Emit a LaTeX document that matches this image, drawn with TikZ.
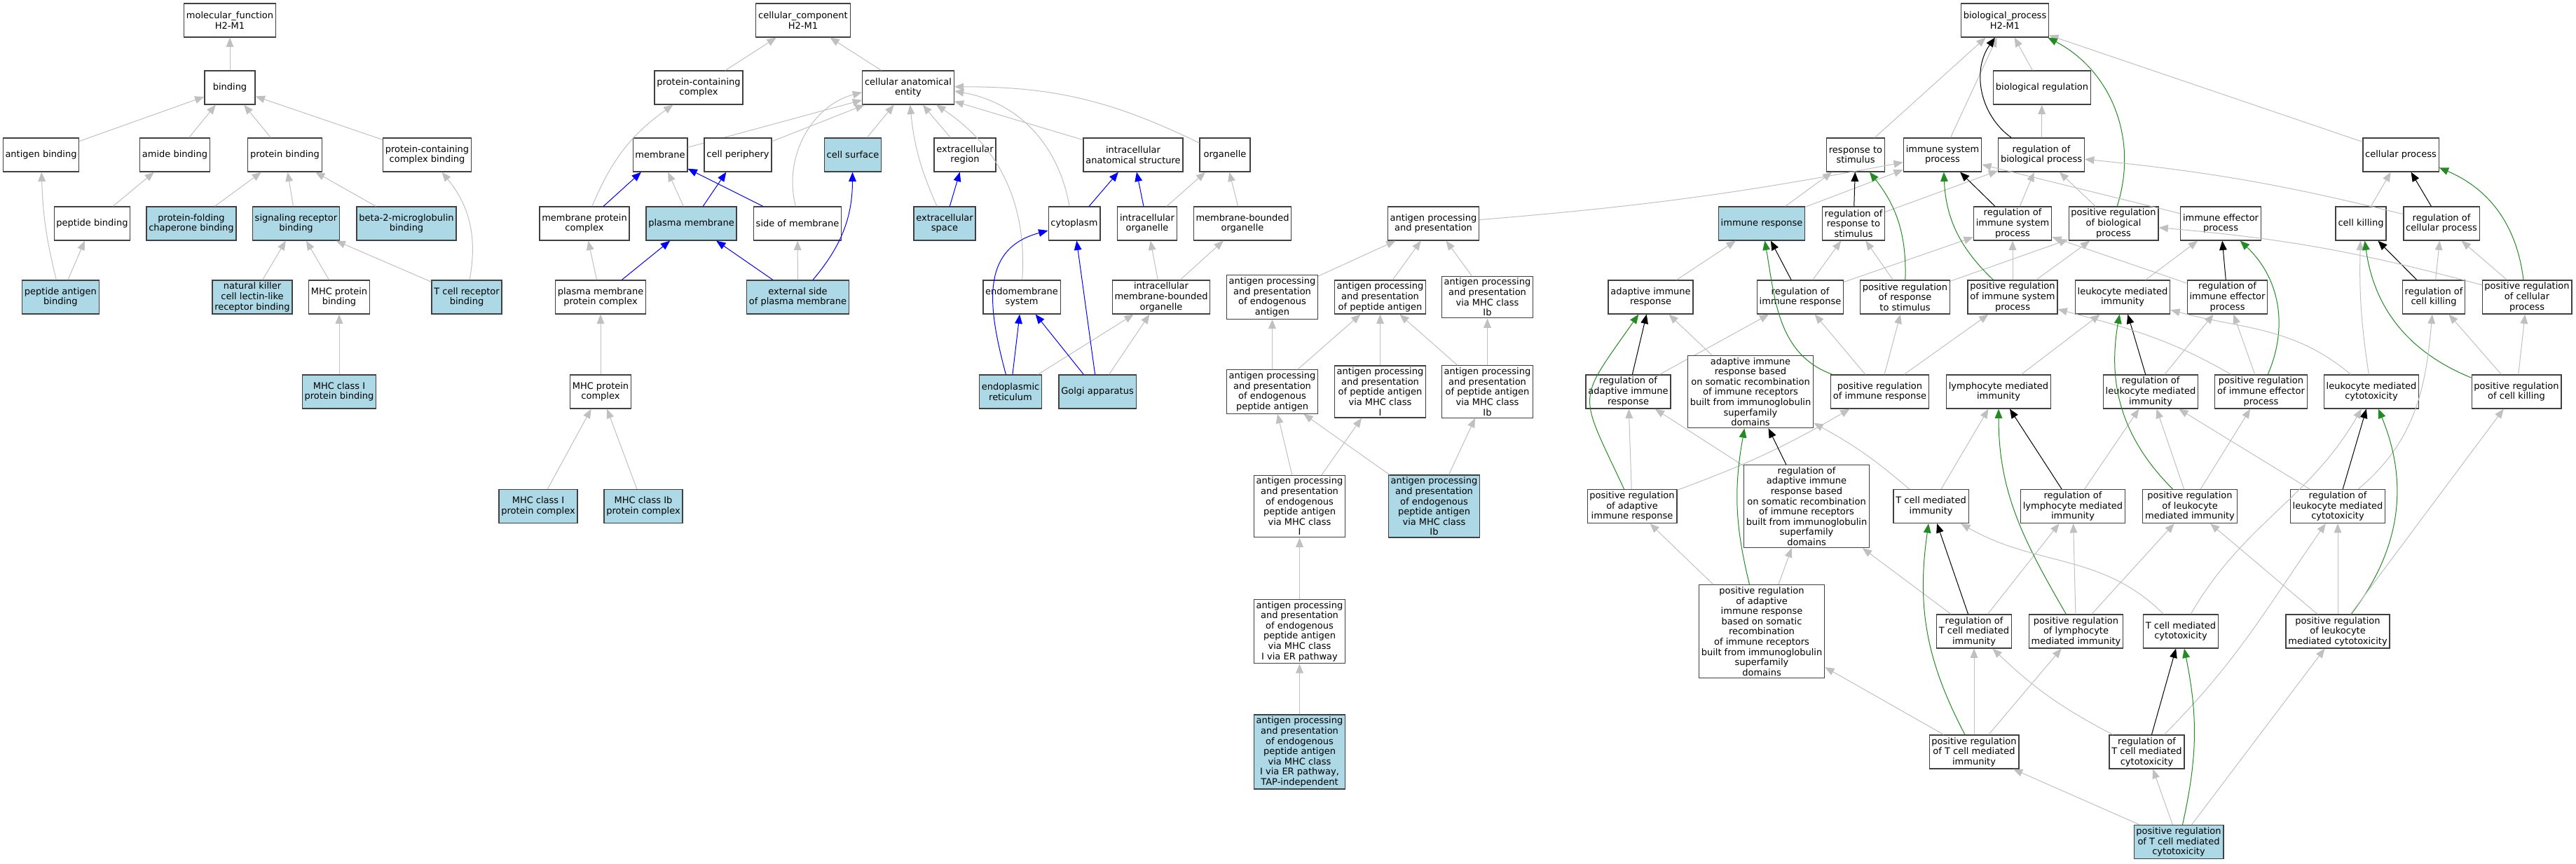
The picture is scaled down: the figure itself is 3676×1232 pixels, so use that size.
\documentclass[tikz,border=0pt]{standalone}
\usepackage{fontspec}
\setmainfont{DejaVu Sans}
\usepackage{tikz}
\usetikzlibrary{arrows.meta}
\definecolor{bleuclair}{HTML}{ADD8E6}
\definecolor{grisclair}{HTML}{C0C0C0}
\definecolor{vertfonce}{HTML}{228B22}

\begin{document}
\begin{tikzpicture}[x=0.75pt,y=0.75pt]
  \tikzstyle{sommet}=[rectangle, draw=black!75, line width=0.9pt, fill=white, align=center,
    font=\fontsize{9.75}{10.95}\selectfont, inner xsep=2.5pt, inner ysep=2.2pt,
    minimum width=54pt, minimum height=36pt]
  \tikzstyle{cible}=[sommet, fill=bleuclair]
  \tikzstyle{isa}=[draw=grisclair, line width=0.75pt, -{Triangle[length=10pt,width=8pt]}]
  \tikzstyle{partof}=[isa, draw=blue]
  \tikzstyle{regul}=[isa, draw=black]
  \tikzstyle{posreg}=[isa, draw=vertfonce]
  \useasboundingbox (0,0) rectangle (3676,-1232);

  % molecular function
  \node[sommet] (mf) at (328,-29) {molecular\_function\\H2-M1};
  \node[sommet] (bind) at (328,-125) {binding}
    edge [isa] (mf);
  \node[sommet] (antb) at (58.5,-221) {antigen binding}
    edge [isa] (bind);
  \node[sommet] (amib) at (249.5,-221) {amide binding}
    edge [isa] (bind);
  \node[sommet] (protb) at (406.5,-221) {protein binding}
    edge [isa] (bind);
  \node[sommet] (pccb) at (609.5,-221) {protein-containing\\complex binding}
    edge [isa] (bind);
  \node[sommet] (pepb) at (131.5,-319) {peptide binding}
    edge [isa] (amib);
  \node[cible] (chap) at (273,-319) {protein-folding\\chaperone binding}
    edge [isa] (protb);
  \node[cible] (sigr) at (422.5,-319) {signaling receptor\\binding}
    edge [isa] (protb);
  \node[cible] (b2m) at (580,-319) {beta-2-microglobulin\\binding}
    edge [isa] (protb);
  \node[cible] (pab) at (86.4,-424) {peptide antigen\\binding}
    edge [isa, bend left=6] (antb)
    edge [isa] (pepb);
  \node[cible] (nkb) at (360,-424) {natural killer\\cell lectin-like\\receptor binding}
    edge [isa] (sigr);
  \node[sommet] (mhcb) at (484,-424) {MHC protein\\binding}
    edge [isa] (sigr);
  \node[cible] (tcrb) at (666,-424) {T cell receptor\\binding}
    edge [isa] (sigr)
    edge [isa, bend right=25] (pccb);
  \node[cible] (mhc1b) at (484,-559) {MHC class I\\protein binding}
    edge [isa] (mhcb);

  % cellular component
  \node[sommet] (cc) at (1146,-29) {cellular\_component\\H2-M1};
  \node[sommet] (pcc) at (997,-125) {protein-containing\\complex}
    edge [isa] (cc);
  \node[sommet] (cae) at (1296,-125) {cellular anatomical\\entity}
    edge [isa] (cc);
  \node[sommet] (memb) at (942,-221) {membrane}
    edge [isa] (cae);
  \node[sommet] (peri) at (1053,-221) {cell periphery}
    edge [isa] (cae);
  \node[cible] (surf) at (1217,-221) {cell surface}
    edge [isa] (cae);
  \node[sommet] (exreg) at (1377,-221) {extracellular\\region}
    edge [isa] (cae);
  \node[sommet] (ias) at (1617,-221) {intracellular\\anatomical structure}
    edge [isa] (cae);
  \node[sommet] (orga) at (1748,-221) {organelle}
    edge [isa, bend right=13] (cae);
  \node[sommet] (mpc) at (834,-319) {membrane protein\\complex}
    edge [isa, bend left=16] (pcc)
    edge [partof] (memb);
  \node[cible] (pm) at (986.5,-319) {plasma membrane}
    edge [isa] (memb)
    edge [partof] (peri);
  \node[sommet] (som) at (1138,-319) {side of membrane}
    edge [partof] (memb)
    edge [isa, bend left=45] (cae);
  \node[cible] (exsp) at (1348,-319) {extracellular\\space}
    edge [isa, bend left=9] (cae)
    edge [partof] (exreg);
  \node[sommet] (cyto) at (1533,-319) {cytoplasm}
    edge [isa, bend right=35] (cae)
    edge [partof] (ias);
  \node[sommet] (iorg) at (1637,-319) {intracellular\\organelle}
    edge [partof] (ias)
    edge [isa] (orga);
  \node[sommet] (mbo) at (1773,-319) {membrane-bounded\\organelle}
    edge [isa] (orga);
  \node[sommet] (pmpc) at (857,-424) {plasma membrane\\protein complex}
    edge [isa] (mpc)
    edge [partof] (pm);
  \node[cible] (espm) at (1138.5,-424) {external side\\of plasma membrane}
    edge [partof] (pm)
    edge [isa] (som)
    edge [partof, bend right=20] (surf);
  \node[sommet] (endo) at (1458,-424) {endomembrane\\system}
    edge [isa, bend right=30] (cae);
  \node[sommet] (imbo) at (1657,-424) {intracellular\\membrane-bounded\\organelle}
    edge [isa] (iorg)
    edge [isa] (mbo);
  \node[sommet] (mhcc) at (857,-559) {MHC protein\\complex}
    edge [isa] (pmpc);
  \node[cible] (er) at (1442,-559) {endoplasmic\\reticulum}
    edge [partof, out=105, in=195, looseness=1.2] (cyto)
    edge [partof] (endo)
    edge [isa] (imbo);
  \node[cible] (golgi) at (1566,-559) {Golgi apparatus}
    edge [partof] (endo)
    edge [partof] (cyto)
    edge [isa] (imbo);
  \node[cible] (mhc1c) at (768,-722.5) {MHC class I\\protein complex}
    edge [isa] (mhcc);
  \node[cible] (mhc1bc) at (918,-722.5) {MHC class Ib\\protein complex}
    edge [isa] (mhcc);

  % biological process
  \node[sommet] (bp) at (2861,-29) {biological\_process\\H2-M1};
  \node[sommet] (breg) at (2914,-125) {biological regulation}
    edge [isa] (bp);
  \node[sommet] (rstim) at (2648,-221) {response to\\stimulus}
    edge [isa] (bp);
  \node[sommet] (isp) at (2772,-221) {immune system\\process}
    edge [isa] (bp);
  \node[sommet] (rbp) at (2913,-221) {regulation of\\biological process}
    edge [regul, bend left=45] (bp)
    edge [isa] (breg);
  \node[sommet] (cproc) at (3426,-221) {cellular process}
    edge [isa] (bp);
  \node[cible] (ir) at (2514,-319) {immune response}
    edge [isa] (rstim)
    edge [isa] (isp);
  \node[sommet] (rrs) at (2645,-319) {regulation of\\response to\\stimulus}
    edge [regul] (rstim)
    edge [isa] (rbp);
  \node[sommet] (risp) at (2872,-319) {regulation of\\immune system\\process}
    edge [regul] (isp)
    edge [isa] (rbp);
  \node[sommet] (prbp) at (3016,-319) {positive regulation\\of biological\\process}
    edge [posreg, bend right=40] (bp)
    edge [isa] (rbp);
  \node[sommet] (iep) at (3169,-319) {immune effector\\process}
    edge [isa] (isp);
  \node[sommet] (ck) at (3369,-319) {cell killing}
    edge [isa] (cproc);
  \node[sommet] (rcp) at (3484,-319) {regulation of\\cellular process}
    edge [regul] (cproc)
    edge [isa, bend right=4] (rbp);
  \node[sommet] (air) at (2355.5,-424) {adaptive immune\\response}
    edge [isa] (ir);
  \node[sommet] (rir) at (2569,-424) {regulation of\\immune response}
    edge [regul] (ir)
    edge [isa] (rrs)
    edge [isa] (risp);
  \node[sommet] (prrs) at (2718.5,-424) {positive regulation\\of response\\to stimulus}
    edge [posreg, bend right=20] (rstim)
    edge [isa] (rrs)
    edge [isa] (prbp);
  \node[sommet] (prisp) at (2872,-424) {positive regulation\\of immune system\\process}
    edge [posreg, bend left=22] (isp)
    edge [isa] (risp)
    edge [isa] (prbp);
  \node[sommet] (lmi) at (3029,-424) {leukocyte mediated\\immunity}
    edge [isa] (iep);
  \node[sommet] (riep) at (3178.5,-424) {regulation of\\immune effector\\process}
    edge [regul] (iep)
    edge [isa] (risp);
  \node[sommet] (rck) at (3473,-424) {regulation of\\cell killing}
    edge [regul] (ck)
    edge [isa] (rcp);
  \node[sommet] (prcp) at (3606,-424) {positive regulation\\of cellular\\process}
    edge [posreg, bend right=30] (cproc)
    edge [isa] (rcp)
    edge [isa, bend right=5] (prbp);
  \node[sommet] (rair) at (2323.5,-559) {regulation of\\adaptive immune\\response}
    edge [regul] (air)
    edge [isa] (rir);
  \node[sommet] (airsr) at (2498,-559) {adaptive immune\\response based\\on somatic recombination\\of immune receptors\\built from immunoglobulin\\superfamily\\domains}
    edge [isa] (air);
  \node[sommet] (prir) at (2682.5,-559) {positive regulation\\of immune response}
    edge [posreg, out=160, in=-80] (ir)
    edge [isa] (rir)
    edge [isa] (prrs)
    edge [isa] (prisp);
  \node[sommet] (lymi) at (2852,-559) {lymphocyte mediated\\immunity}
    edge [isa] (lmi);
  \node[sommet] (rlmi) at (3069,-559) {regulation of\\leukocyte mediated\\immunity}
    edge [regul] (lmi)
    edge [isa] (riep);
  \node[sommet] (priep) at (3226.5,-559) {positive regulation\\of immune effector\\process}
    edge [posreg, bend right=35] (iep)
    edge [isa] (riep)
    edge [isa, out=150, in=-15] (prisp);
  \node[sommet] (lmc) at (3384,-559) {leukocyte mediated\\cytotoxicity}
    edge [isa, bend left=5] (ck)
    edge [isa, out=140, in=-15] (lmi);
  \node[sommet] (prck) at (3591,-559) {positive regulation\\of cell killing}
    edge [posreg, bend left=30] (ck)
    edge [isa] (rck)
    edge [isa] (prcp);
  \node[sommet] (prair) at (2329,-722.5) {positive regulation\\of adaptive\\immune response}
    edge [posreg, out=115, in=-125, looseness=1.6] (air)
    edge [isa] (rair)
    edge [isa, bend right=5] (prir);
  \node[sommet] (rairsr) at (2578,-722.5) {regulation of\\adaptive immune\\response based\\on somatic recombination\\of immune receptors\\built from immunoglobulin\\superfamily\\domains}
    edge [regul] (airsr)
    edge [isa] (rair);
  \node[sommet] (tmi) at (2755.6,-722.5) {T cell mediated\\immunity}
    edge [isa, bend right=6] (airsr)
    edge [isa] (lymi);
  \node[sommet] (rlymi) at (2958,-722.5) {regulation of\\lymphocyte mediated\\immunity}
    edge [regul] (lymi)
    edge [isa] (rlmi);
  \node[sommet] (prlmi) at (3125,-722.5) {positive regulation\\of leukocyte\\mediated immunity}
    edge [posreg, out=135, in=-100] (lmi)
    edge [isa] (rlmi)
    edge [isa] (priep);
  \node[sommet] (rlmc) at (3336,-722.5) {regulation of\\leukocyte mediated\\cytotoxicity}
    edge [regul] (lmc)
    edge [isa] (rlmi)
    edge [isa, out=40, in=-95] (rck);
  \node[sommet] (prairsr) at (2514,-901) {positive regulation\\of adaptive\\immune response\\based on somatic\\recombination\\of immune receptors\\built from immunoglobulin\\superfamily\\domains}
    edge [posreg, bend left=12] (airsr)
    edge [isa] (prair)
    edge [isa] (rairsr);
  \node[sommet] (rtmi) at (2817,-901) {regulation of\\T cell mediated\\immunity}
    edge [regul] (tmi)
    edge [isa] (rlymi)
    edge [isa] (rairsr);
  \node[sommet] (prlymi) at (2962.5,-901) {positive regulation\\of lymphocyte\\mediated immunity}
    edge [posreg, out=120, in=-90] (lymi)
    edge [isa] (rlymi)
    edge [isa] (prlmi);
  \node[sommet] (tmc) at (3112,-901) {T cell mediated\\cytotoxicity}
    edge [isa, out=135, in=-30] (tmi)
    edge [isa, out=60, in=-120] (lmc);
  \node[sommet] (prlmc) at (3336,-901) {positive regulation\\of leukocyte\\mediated cytotoxicity}
    edge [posreg, bend right=30] (lmc)
    edge [isa] (rlmc)
    edge [isa] (prck)
    edge [isa] (prlmi);
  \node[sommet] (prtmi) at (2817,-1073) {positive regulation\\of T cell mediated\\immunity}
    edge [posreg, bend left=18] (tmi)
    edge [isa] (rtmi)
    edge [isa] (prlymi)
    edge [isa] (prairsr);
  \node[sommet] (rtmc) at (3063.5,-1073) {regulation of\\T cell mediated\\cytotoxicity}
    edge [regul] (tmc)
    edge [isa, bend left=8] (rtmi)
    edge [isa, out=45, in=-125] (rlmc);
  \node[cible] (prtmc) at (3109,-1201.5) {positive regulation\\of T cell mediated\\cytotoxicity}
    edge [posreg, bend right=12] (tmc)
    edge [isa] (rtmc)
    edge [isa] (prtmi)
    edge [isa] (prlmc);

  % antigen processing and presentation
  \node[sommet] (ap) at (2045.5,-319) {antigen processing\\and presentation}
    edge [isa, bend right=3] (isp);
  \node[sommet] (apea) at (1815.5,-424) {antigen processing\\and presentation\\of endogenous\\antigen}
    edge [isa] (ap);
  \node[sommet] (appa) at (1969.5,-424) {antigen processing\\and presentation\\of peptide antigen}
    edge [isa] (ap);
  \node[sommet] (apib) at (2122.5,-424) {antigen processing\\and presentation\\via MHC class\\Ib}
    edge [isa] (ap);
  \node[sommet] (apepa) at (1815.5,-559) {antigen processing\\and presentation\\of endogenous\\peptide antigen}
    edge [isa] (apea)
    edge [isa] (appa);
  \node[sommet] (appa1) at (1969.5,-559) {antigen processing\\and presentation\\of peptide antigen\\via MHC class\\I}
    edge [isa] (appa);
  \node[sommet] (appaib) at (2122.5,-559) {antigen processing\\and presentation\\of peptide antigen\\via MHC class\\Ib}
    edge [isa] (appa)
    edge [isa] (apib);
  \node[sommet] (apep1) at (1854.5,-722.5) {antigen processing\\and presentation\\of endogenous\\peptide antigen\\via MHC class\\I}
    edge [isa] (apepa)
    edge [isa] (appa1);
  \node[cible] (apepib) at (2046.5,-722.5) {antigen processing\\and presentation\\of endogenous\\peptide antigen\\via MHC class\\Ib}
    edge [isa] (apepa)
    edge [isa] (appaib);
  \node[sommet] (aper) at (1854.5,-901) {antigen processing\\and presentation\\of endogenous\\peptide antigen\\via MHC class\\I via ER pathway}
    edge [isa] (apep1);
  \node[cible] (aptap) at (1854.5,-1073) {antigen processing\\and presentation\\of endogenous\\peptide antigen\\via MHC class\\I via ER pathway,\\TAP-independent}
    edge [isa] (aper);
\end{tikzpicture}
\end{document}
